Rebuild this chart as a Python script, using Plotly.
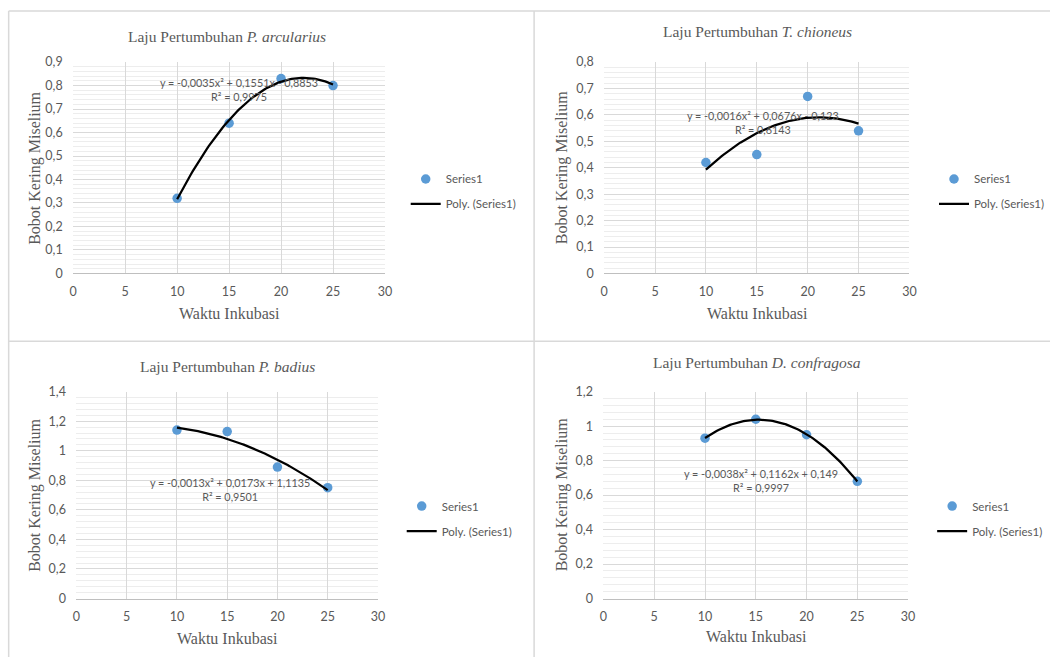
import numpy as np
import plotly.graph_objects as go

W, H = 1050, 657

# ---------------- data ----------------
waktu = [10, 15, 20, 25]

titles = ["P. arcularius", "T. chioneus", "P. badius", "D. confragosa"]
bobot_arcularius = [0.32, 0.64, 0.83, 0.80]
bobot_chioneus = [0.42, 0.45, 0.67, 0.54]
bobot_badius = [1.14, 1.13, 0.89, 0.75]
bobot_confragosa = [0.93, 1.04, 0.95, 0.68]

# trendline coefficients (a, b, c) as printed on the chart
coef_arcularius = [-0.0035, 0.1551, -0.8853]
coef_chioneus = [-0.0016, 0.0676, -0.123]
coef_badius = [-0.0013, 0.0173, 1.1135]
coef_confragosa = [-0.0038, 0.1162, 0.149]

r2_values = ["0,9975", "0,6143", "0,9501", "0,9997"]

y_max = [0.9, 0.8, 1.4, 1.2]
y_dtick = [0.1, 0.1, 0.2, 0.2]

series = [bobot_arcularius, bobot_chioneus, bobot_badius, bobot_confragosa]
coefs = [coef_arcularius, coef_chioneus, coef_badius, coef_confragosa]

# ---------------- layout geometry (target pixels) ----------------
# plot areas: (x0, x1, ytop, ybottom)
areas = [(73.5, 385, 61, 272.3), (604, 909, 61, 272.3),
         (76.7, 378, 390.5, 597.3), (603.3, 907.7, 390.5, 597.3)]
title_pos = [(227, 35), (757, 30), (228, 365), (757, 361)]
ytitle_pos = [(35, 167), (562, 167), (35, 494), (562, 494)]
xtitle_pos = [(230, 312), (757, 312), (228, 637), (756, 635)]
eq_pos = [(239, 89.5), (763, 123), (230, 489.5), (761, 480.5)]   # centre of the two lines
legend_marker = [(425, 179), (953, 179), (421, 506), (951, 506)]

# the photographed page appears slightly scaled; map target px -> page px
SX, OX = 0.9887, 4.34
SY, OY = 0.977, 6.9


def tx_(x):
    return (x - OX) / SX


def ty_(y):
    return (y - OY) / SY


def px(x):
    return tx_(x) / W


def py(y):
    return 1 - ty_(y) / H


def fmt(v, nd):
    return f"{abs(v):.{nd}f}".replace(".", ",")


def eq_text(c):
    a, b, k = c
    s = "y = " + ("-" if a < 0 else "") + fmt(a, 4) + "x²"
    s += (" - " if b < 0 else " + ") + fmt(b, 4) + "x"
    kd = len(str(abs(k)).split(".")[1]) if "." in str(abs(k)) else 0
    s += (" - " if k < 0 else " + ") + fmt(k, kd)
    return s


GRAY = "#595959"
SERIF = "Liberation Serif"
SANS = "Lato"

fig = go.Figure()
annotations = []

for i in range(4):
    n = "" if i == 0 else str(i + 1)
    xa, ya = "x" + n, "y" + n
    leg = "legend" + n
    fig.add_trace(go.Scatter(
        x=waktu, y=series[i], mode="markers", name="Series1",
        marker=dict(color="#5B9BD5", size=9.5),
        xaxis=xa, yaxis=ya, legend=leg, legendgroup=f"s{i}", showlegend=True))
    xt = np.linspace(waktu[0], waktu[-1], 80)
    yt = np.polyval(coefs[i], xt)
    fig.add_trace(go.Scatter(
        x=xt, y=yt, mode="lines", name="Poly. (Series1)",
        line=dict(color="black", width=2.25),
        xaxis=xa, yaxis=ya, legend=leg, legendgroup=f"p{i}", showlegend=True))

    x0, x1, yt0, yb0 = areas[i]
    axis_common = dict(
        showgrid=True, gridcolor="#d9d9d9", gridwidth=1, zeroline=False,
        tickfont=dict(family=SANS, size=12.5, color=GRAY),
        ticks="outside", tickcolor="rgba(0,0,0,0)",
    )
    fig.layout["xaxis" + n] = dict(
        domain=[px(x0), px(x1)], range=[0, 30], dtick=5, tick0=0,
        anchor=ya, showline=True, linecolor="#bfbfbf", linewidth=1,
        ticklen=6.5, **axis_common)
    fig.layout["yaxis" + n] = dict(
        domain=[py(yb0), py(yt0)], range=[0, y_max[i]], dtick=y_dtick[i], tick0=0,
        anchor=xa, showline=False, ticklen=7,
        minor=dict(dtick=y_dtick[i] / 5, showgrid=True, gridcolor="#ededed", gridwidth=1),
        **axis_common)

    mx, my = legend_marker[i]
    fig.layout[leg] = dict(
        x=(tx_(mx) - 19.5) / W, y=1 - (ty_(my) - 16) / H, xanchor="left", yanchor="top",
        font=dict(family=SANS, size=11.5, color=GRAY), bgcolor="rgba(0,0,0,0)",
        tracegroupgap=6, itemwidth=30)

    tx, ty = title_pos[i]
    annotations.append(dict(
        x=px(tx), y=py(ty), xref="paper", yref="paper", showarrow=False,
        text="Laju Pertumbuhan <i>" + titles[i] + "</i>",
        font=dict(family=SERIF, size=15.5, color=GRAY), xanchor="center", yanchor="middle"))
    ax_, ay_ = ytitle_pos[i]
    annotations.append(dict(
        x=px(ax_), y=py(ay_), xref="paper", yref="paper", showarrow=False,
        text="Bobot Kering Miselium", textangle=-90,
        font=dict(family=SERIF, size=16, color=GRAY), xanchor="center", yanchor="middle"))
    bx, by = xtitle_pos[i]
    annotations.append(dict(
        x=px(bx), y=py(by), xref="paper", yref="paper", showarrow=False,
        text="Waktu Inkubasi",
        font=dict(family=SERIF, size=16, color=GRAY), xanchor="center", yanchor="middle"))
    ex, ey = eq_pos[i]
    annotations.append(dict(
        x=px(ex), y=1 - (ty_(ey) - 1.5) / H, xref="paper", yref="paper", showarrow=False,
        text=eq_text(coefs[i]) + "<br>R² = " + r2_values[i], align="center",
        font=dict(family=SANS, size=10.8, color=GRAY), xanchor="center", yanchor="middle"))

shapes = []
BORDER = "#d9d9d9"
for (xa0, ya0, xa1, ya1) in [(9, 10, 1060, 10), (9, 10, 9, 670), (534, 10, 534, 670),
                             (9, 340, 1060, 340)]:
    shapes.append(dict(type="line", xref="paper", yref="paper",
                       x0=px(xa0), y0=py(ya0), x1=px(xa1), y1=py(ya1),
                       line=dict(color=BORDER, width=1.5)))

fig.update_layout(
    autosize=True, margin=dict(l=0, r=0, t=0, b=0),
    paper_bgcolor="white", plot_bgcolor="white",
    separators=",.", annotations=annotations, shapes=shapes,
)

fig.write_html(
    "out.html",
    default_width="100vw", default_height="100vh",
    config={"displayModeBar": False, "responsive": True},
    post_script="document.body.style.margin='0';document.body.style.overflow='hidden';",
)
